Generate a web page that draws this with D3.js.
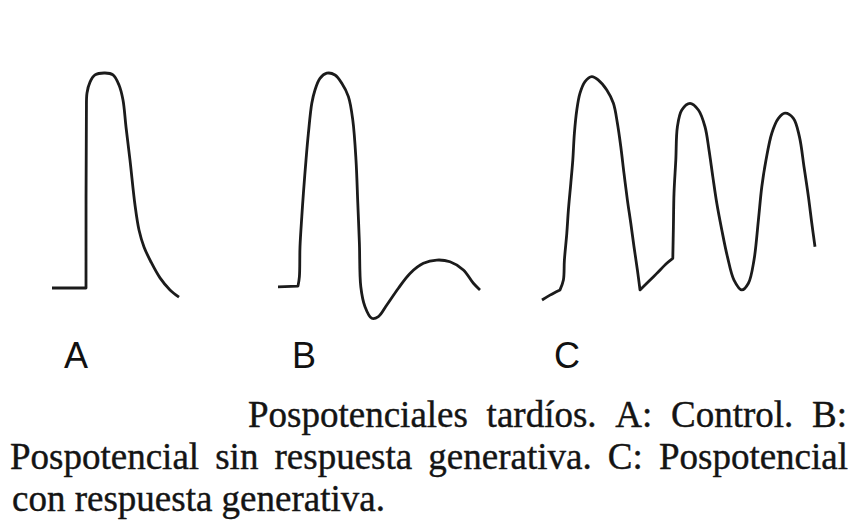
<!DOCTYPE html>
<html>
<head>
<meta charset="utf-8">
<script src="https://cdn.jsdelivr.net/npm/d3@7"></script>
<style>
  html, body { margin: 0; padding: 0; background: #fff; }
  svg { display: block; }
</style>
</head>
<body>
<svg id="fig" width="860" height="523"></svg>
<script>
// Late afterpotential recordings: time (ms) and membrane potential (mV, relative to rest).
// A repeated sample marks a sharp corner in the trace (stimulus onset, abrupt reversal).
const traceA_t = [0, 17, 17, 17.2, 17.5, 19, 21.5, 26.5, 30.5, 33.5, 35.5, 37, 39, 41.5, 43.5, 46, 49.5, 54, 59, 63.5];
const traceA_v = [0, 0, 0, 81.4, 90.7, 95.8, 99.1, 100, 99.1, 94.4, 87.4, 74.9, 59.5, 38.6, 27, 19.1, 12.1, 4.7, -0.9, -4.2];

const traceB_t = [0, 10, 10, 10.7, 11, 11.9, 12.7, 14, 15.2, 16.9, 18.5, 21, 24.4, 28.5, 31.9, 35.2, 37.4, 39, 39.9, 40.7, 41.4, 43.5, 46.9, 50.2, 54.4, 60.2, 66, 72.7, 79.4, 86, 92.7, 97.7, 101];
const traceB_v = [0.5, 0.9, 0.9, 5.3, 19.2, 33.2, 44, 59.5, 72, 85.9, 92.1, 97.5, 99.9, 99.1, 95.2, 89, 78.1, 59.5, 39.4, 20.8, 0.6, -8.7, -14.1, -13.3, -7.9, -0.1, 6.8, 11.5, 13, 12.2, 8.4, 2.2, -0.9];

const traceC_t = [0, 4, 9, 9, 10.7, 11.2, 12.4, 13.2, 14.4, 15.4, 16.2, 17.4, 19, 21.5, 24.9, 28.2, 32.4, 35.7, 37.7, 39.4, 41, 42.7, 44.4, 46, 47.7, 49, 49, 52.4, 57.4, 62.4, 65.4, 65.4, 65.7, 66, 66.9, 67.7, 69.9, 74, 78.2, 81.5, 83.5, 85.4, 87.4, 89.9, 92.7, 96, 99.9, 103.2, 106, 108.2, 109.9, 112, 114.9, 118.2, 121.5, 125.7, 128.7, 131, 133.2, 134.9, 136.5];
const traceC_v = [-5.6, -3.3, -0.9, -0.9, 3.7, 13, 25.4, 36.3, 48.7, 59.5, 72, 82.8, 90.6, 96, 98.3, 96.7, 92.1, 85.9, 76.6, 65.7, 53.3, 40.9, 30.1, 19.2, 8.4, -0.9, -0.9, 2.2, 6.8, 11.5, 13.8, 13.8, 28.5, 44, 59.5, 75, 82.8, 85.9, 82.8, 75, 64.2, 51.8, 39.4, 27, 14.6, 3.7, -0.9, 2.2, 13, 31.6, 47.1, 59.5, 72, 78.9, 81.3, 78.9, 70.4, 56.4, 42.5, 30.1, 19.2];

const panelLabels = ["A", "B", "C"];

const captionLines = [
  "Pospotenciales tardíos. A: Control. B:",
  "Pospotencial sin respuesta generativa. C: Pospotencial",
  "con respuesta generativa."
];

const svg = d3.select("#fig");

// Shared scales: every panel uses the same time base and voltage gain
const x = d3.scaleLinear().domain([0, 100]).range([0, 200]);
const y = d3.scaleLinear().domain([0, 100]).range([288, 73]);

const line = d3.line()
  .x(d => x(d[0]))
  .y(d => y(d[1]))
  .curve(d3.curveCatmullRom.alpha(0.5));

const panels = [
  { left: 52,  t: traceA_t, v: traceA_v, labelX: 76 },
  { left: 278, t: traceB_t, v: traceB_v, labelX: 304 },
  { left: 542, t: traceC_t, v: traceC_v, labelX: 567 }
];

panels.forEach((p, i) => {
  const g = svg.append("g").attr("transform", `translate(${p.left},0)`);
  const pts = d3.zip(p.t, p.v);
  g.append("path")
    .datum(pts)
    .attr("d", line)
    .attr("fill", "none")
    .attr("stroke", "#1b1b1b")
    .attr("stroke-width", 2.8)
    .attr("stroke-linejoin", "round")
    .attr("stroke-linecap", "butt");

  svg.append("text")
    .attr("x", p.labelX)
    .attr("y", 368)
    .attr("text-anchor", "middle")
    .attr("font-family", "'Liberation Sans', Arial, sans-serif")
    .attr("font-size", 36)
    .attr("fill", "#111")
    .text(panelLabels[i]);
});

// Caption set as a justified paragraph in a serif face
const capFont = "'Liberation Serif', 'Times New Roman', serif";
const capSize = 37;
const capRows = [
  { text: captionLines[0], left: 248, right: 847, base: 427, justify: true },
  { text: captionLines[1], left: 10,  right: 848, base: 469, justify: true },
  { text: captionLines[2], left: 12,  right: null, base: 511, justify: false }
];

capRows.forEach(row => {
  const words = row.text.split(" ");
  const nodes = words.map(w => svg.append("text")
    .attr("font-family", capFont)
    .attr("font-size", capSize)
    .attr("fill", "#141414")
    .attr("stroke", "#141414")
    .attr("stroke-width", 0.4)
    .attr("y", row.base)
    .text(w));
  const widths = nodes.map(n => n.node().getComputedTextLength());
  const total = d3.sum(widths);
  const spaceW = capSize * 0.25;
  const gap = row.justify && words.length > 1
    ? (row.right - row.left - total) / (words.length - 1)
    : spaceW;
  let cx = row.left;
  nodes.forEach((n, k) => {
    n.attr("x", cx);
    cx += widths[k] + gap;
  });
});
</script>
</body>
</html>
